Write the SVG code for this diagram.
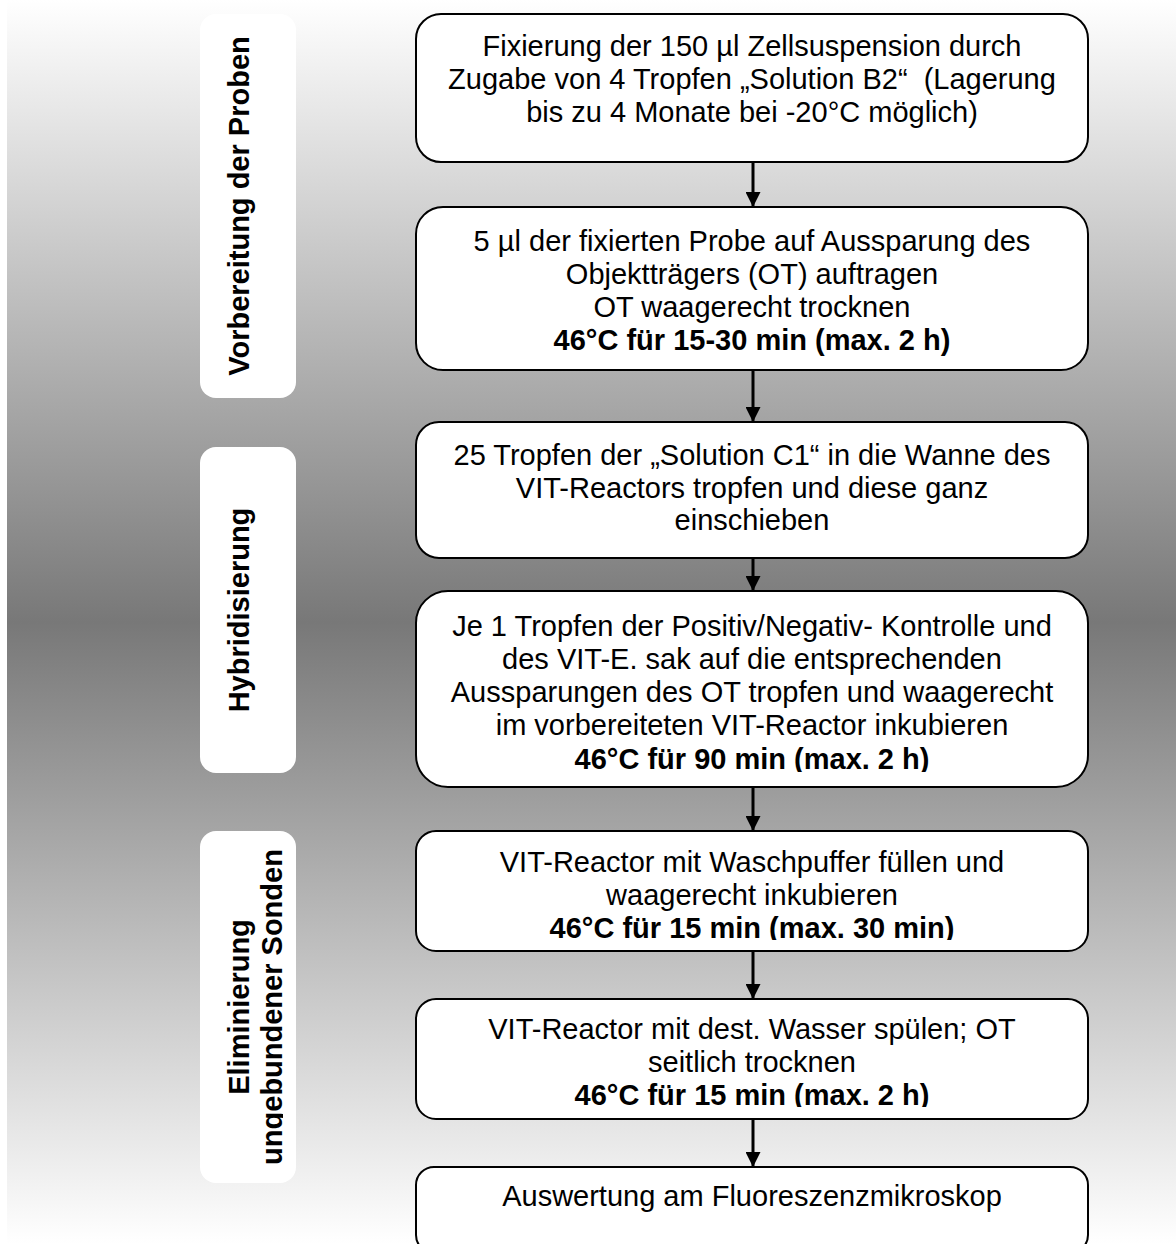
<svg xmlns="http://www.w3.org/2000/svg" width="1176" height="1244" viewBox="0 0 1176 1244">
<style>
.box{fill:#ffffff;stroke:#000000;stroke-width:2}
.lab{fill:#ffffff;stroke:none}
.t{font-family:"Liberation Sans",Arial,sans-serif;font-size:29px;fill:#000000;text-anchor:middle;white-space:pre}
.b{font-weight:bold}
.conn line{stroke:#000000;stroke-width:3}
</style>
<defs>
<linearGradient id="bg" x1="0" y1="0" x2="0" y2="1">
<stop offset="0" stop-color="#ffffff"/>
<stop offset="0.5" stop-color="#787878"/>
<stop offset="1" stop-color="#ffffff"/>
</linearGradient>
<marker id="ah" viewBox="0 0 10 10" refX="10" refY="5" markerWidth="5" markerHeight="5" markerUnits="strokeWidth" orient="auto">
<path d="M0,0 L10,5 L0,10 z" fill="#000000"/>
</marker>
<clipPath id="c4"><rect x="416" y="591" width="672" height="181"/></clipPath>
<clipPath id="c5"><rect x="416" y="831" width="672" height="109"/></clipPath>
<clipPath id="c6"><rect x="416" y="999" width="672" height="108"/></clipPath>
<clipPath id="cl3"><rect x="200" y="831" width="83" height="352"/></clipPath>
</defs>
<rect x="7" y="0" width="1169" height="1244" fill="url(#bg)"/>

<g id="label1">
<rect class="lab" x="200" y="14" width="96" height="384" rx="16"/>
<text class="t b" transform="translate(249,206) rotate(-90)">Vorbereitung der Proben</text>
</g>
<g id="label2">
<rect class="lab" x="200" y="447" width="96" height="326" rx="16"/>
<text class="t b" transform="translate(249,610) rotate(-90)">Hybridisierung</text>
</g>
<g id="label3">
<rect class="lab" x="200" y="831" width="96" height="352" rx="16"/>
<g clip-path="url(#cl3)">
<text class="t b" transform="translate(249,1007) rotate(-90)">Eliminierung</text>
<text class="t b" transform="translate(282,1007) rotate(-90)">ungebundener Sonden</text>
</g>
</g>

<g id="step1">
<rect class="box" x="416" y="14" width="672" height="148" rx="25"/>
<text class="t" x="752" y="56">Fixierung der 150 µl Zellsuspension durch</text>
<text class="t" x="752" y="89">Zugabe von 4 Tropfen „Solution B2“  (Lagerung</text>
<text class="t" x="752" y="122">bis zu 4 Monate bei -20°C möglich)</text>
</g>
<g id="step2">
<rect class="box" x="416" y="207" width="672" height="163" rx="27"/>
<text class="t" x="752" y="251">5 µl der fixierten Probe auf Aussparung des</text>
<text class="t" x="752" y="284">Objektträgers (OT) auftragen</text>
<text class="t" x="752" y="317">OT waagerecht trocknen</text>
<text class="t b" x="752" y="350">46°C für 15-30 min (max. 2 h)</text>
</g>
<g id="step3">
<rect class="box" x="416" y="422" width="672" height="136" rx="23"/>
<text class="t" x="752" y="465">25 Tropfen der „Solution C1“ in die Wanne des</text>
<text class="t" x="752" y="498">VIT-Reactors tropfen und diese ganz</text>
<text class="t" x="752" y="530">einschieben</text>
</g>
<g id="step4">
<rect class="box" x="416" y="591" width="672" height="196" rx="32"/>
<g clip-path="url(#c4)">
<text class="t" x="752" y="636">Je 1 Tropfen der Positiv/Negativ- Kontrolle und</text>
<text class="t" x="752" y="669">des VIT-E. sak auf die entsprechenden</text>
<text class="t" x="752" y="702">Aussparungen des OT tropfen und waagerecht</text>
<text class="t" x="752" y="735">im vorbereiteten VIT-Reactor inkubieren</text>
<text class="t b" x="752" y="769">46°C für 90 min (max. 2 h)</text>
</g>
</g>
<g id="step5">
<rect class="box" x="416" y="831" width="672" height="120" rx="20"/>
<g clip-path="url(#c5)">
<text class="t" x="752" y="872">VIT-Reactor mit Waschpuffer füllen und</text>
<text class="t" x="752" y="905">waagerecht inkubieren</text>
<text class="t b" x="752" y="938">46°C für 15 min (max. 30 min)</text>
</g>
</g>
<g id="step6">
<rect class="box" x="416" y="999" width="672" height="120" rx="20"/>
<g clip-path="url(#c6)">
<text class="t" x="752" y="1039">VIT-Reactor mit dest. Wasser spülen; OT</text>
<text class="t" x="752" y="1072">seitlich trocknen</text>
<text class="t b" x="752" y="1105">46°C für 15 min (max. 2 h)</text>
</g>
</g>
<g id="step7">
<rect class="box" x="416" y="1167" width="672" height="86" rx="18"/>
<text class="t" x="752" y="1206">Auswertung am Fluoreszenzmikroskop</text>
</g>

<g id="connectors" class="conn">
<line x1="753" y1="162" x2="753" y2="207" marker-end="url(#ah)"/>
<line x1="753" y1="370" x2="753" y2="422" marker-end="url(#ah)"/>
<line x1="753" y1="558" x2="753" y2="591" marker-end="url(#ah)"/>
<line x1="753" y1="787" x2="753" y2="831" marker-end="url(#ah)"/>
<line x1="753" y1="951" x2="753" y2="999" marker-end="url(#ah)"/>
<line x1="753" y1="1119" x2="753" y2="1167" marker-end="url(#ah)"/>
</g>
</svg>
